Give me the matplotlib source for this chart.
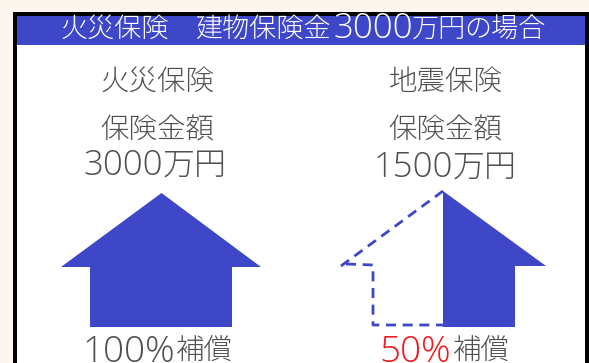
import matplotlib
matplotlib.use("Agg")
import matplotlib.pyplot as plt
from matplotlib.patches import Polygon, Rectangle

W, H = 589, 363
BG = "#FDF6EE"
BLUE = "#3D47C8"
GREY = "#505050"
RED = "#F01A1E"

CJK = ["Noto Sans CJK JP", "DejaVu Sans"]
LATIN = ["Open Sans", "DejaVu Sans"]
plt.rcParams["font.family"] = CJK

title_parts = ["火災保険", "建物保険金", "3000", "万円", "の場合"]
left_head = "火災保険"
right_head = "地震保険"
amount_head = "保険金額"
left_amount = "3000"
right_amount = "1500"
yen_unit = "万円"
left_pct = "100%"
right_pct = "50%"
pct_suffix = "補償"

full_house = [(161.5, 193), (261, 267), (232, 267), (232, 327), (90, 327), (90, 267), (61, 267)]
half_house = [(443, 191), (546, 266), (515, 266), (515, 327), (443, 327)]
roof_dash = [(341, 266), (443, 191)]
wall_dash = [(346, 264), (373, 265), (373, 325), (443, 325)]

fig = plt.figure(figsize=(W / 100, H / 100), dpi=100, facecolor=BG)
ax = fig.add_axes([0, 0, 1, 1])
ax.set_xlim(0, W)
ax.set_ylim(H, 0)
ax.axis("off")

# panel frame and title band
ax.add_patch(Rectangle((13, 12), 576, 351, fc="black", ec="none"))
ax.add_patch(Rectangle((17, 16), 568, 347, fc="white", ec="none"))
ax.add_patch(Rectangle((17, 16), 568, 29, fc=BLUE, ec="none"))


def cjk(x, y, s, size=20.5, color=GREY, ha="center"):
    ax.text(x, y, s, color=color, fontsize=size, ha=ha, va="center",
            family=CJK, fontweight="light")


def digits(x, y, s, size=25, color=GREY, ha="center"):
    ax.text(x, y, s, color=color, fontsize=size, ha=ha, va="center",
            family=LATIN, fontweight="light")


# title band text, laid out piece by piece because the digits run wide
cjk(115, 29, title_parts[0], size=19.5, color="white")
cjk(264, 29, title_parts[1], size=19.5, color="white")
digits(373, 29, title_parts[2], size=25, color="white")
cjk(439, 29, title_parts[3], size=19.5, color="white")
cjk(505, 29, title_parts[4], size=19.5, color="white")

# headings above each house
cjk(157, 82, left_head)
cjk(446, 82, right_head)
cjk(157, 130, amount_head)
cjk(445, 130, amount_head)

digits(123, 166, left_amount)
cjk(195, 165, yen_unit, size=23)
digits(413, 168, right_amount)
cjk(485, 167, yen_unit, size=23)

# houses: full cover on the left, half cover on the right
ax.add_patch(Polygon(full_house, closed=True, fc=BLUE, ec="none"))
ax.add_patch(Polygon(half_house, closed=True, fc=BLUE, ec="none"))

dash = dict(color=BLUE, lw=2.0, ls=(0, (3.6, 2.4)))
ax.plot(*zip(*roof_dash), **dash)
ax.plot(*zip(*wall_dash), **dash)

# cover percentages along the bottom edge
digits(129, 352, left_pct, size=26.5)
cjk(204, 352, pct_suffix)
digits(415, 352, right_pct, size=26.5, color=RED)
cjk(481, 352, pct_suffix)

fig.savefig("out.png", dpi=100, facecolor=BG)
